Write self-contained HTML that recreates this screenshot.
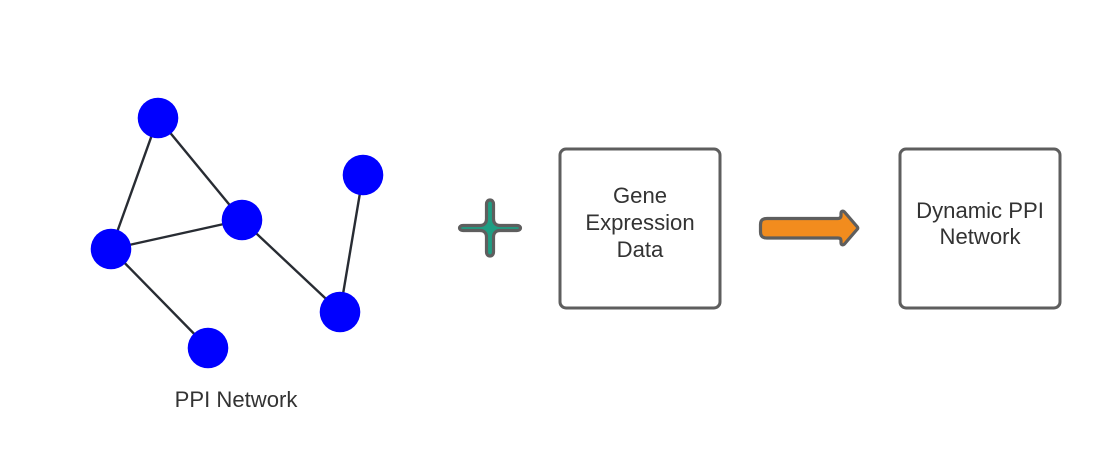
<!DOCTYPE html>
<html>
<head>
<meta charset="utf-8">
<style>
html,body{margin:0;padding:0;background:#fff;}
svg{display:block;}
text{font-family:"Liberation Sans",sans-serif;font-size:22.1px;fill:#333333;text-anchor:middle;}
</style>
</head>
<body>
<svg width="1100" height="472" viewBox="0 0 1100 472" xmlns="http://www.w3.org/2000/svg">
<rect width="1100" height="472" fill="#ffffff"/>
<g stroke="#282c33" stroke-width="2.4" fill="none">
<line x1="158" y1="118" x2="111" y2="249"/>
<line x1="158" y1="118" x2="242" y2="220"/>
<line x1="111" y1="249" x2="242" y2="220"/>
<line x1="111" y1="249" x2="208" y2="348"/>
<line x1="242" y1="220" x2="340" y2="312"/>
<line x1="363" y1="175" x2="340" y2="312"/>
</g>
<g fill="#0000ff">
<circle cx="158" cy="118" r="20.3"/>
<circle cx="363" cy="175" r="20.3"/>
<circle cx="242" cy="220" r="20.3"/>
<circle cx="111" cy="249" r="20.3"/>
<circle cx="340" cy="312" r="20.3"/>
<circle cx="208" cy="348" r="20.3"/>
</g>
<text x="236" y="407">PPI Network</text>
<path d="M490 200 C488 200 486.500 201.500 486.500 204 L486.500 219 C486.500 223 484 225.500 480 225.500 L463 225.500 C460.500 225.500 459.500 226.800 459.500 228 C459.500 229.200 460.500 230.500 463 230.500 L480 230.500 C484 230.500 486.500 233 486.500 237 L486.500 252 C486.500 254.500 488 256 490 256 C492 256 493.500 254.500 493.500 252 L493.500 237 C493.500 233 496 230.500 500 230.500 L517 230.500 C519.500 230.500 520.500 229.200 520.500 228 C520.500 226.800 519.500 225.500 517 225.500 L500 225.500 C496 225.500 493.500 223 493.500 219 L493.500 204 C493.500 201.500 492 200 490 200 Z" fill="#1f9e83" stroke="#5e5e5e" stroke-width="3.2" stroke-linejoin="round"/>
<rect x="560" y="149" width="160" height="159" rx="6" ry="6" fill="#ffffff" stroke="#5e5e5e" stroke-width="3"/>
<text x="640" y="203">Gene</text>
<text x="640" y="230">Expression</text>
<text x="640" y="257">Data</text>
<path d="M767 218.500 L838 218.500 C840 218.500 841 217.500 841 216 L841 213.500 C841 211 843 210.500 844.500 212 L857 226.500 C858 227.500 858 228.500 857 229.500 L844.500 244 C843 245.500 841 245 841 242.500 L841 240.500 C841 238.800 840 238 838 238 L767 238 C762.500 238 760.500 236 760.500 232 L760.500 224.500 C760.500 220.500 762.500 218.500 767 218.500 Z" fill="#f28c1e" stroke="#5e5e5e" stroke-width="3.2" stroke-linejoin="round"/>
<rect x="900" y="149" width="160" height="159" rx="6" ry="6" fill="#ffffff" stroke="#5e5e5e" stroke-width="3"/>
<text x="980" y="218">Dynamic PPI</text>
<text x="980" y="244">Network</text>
</svg>
</body>
</html>
